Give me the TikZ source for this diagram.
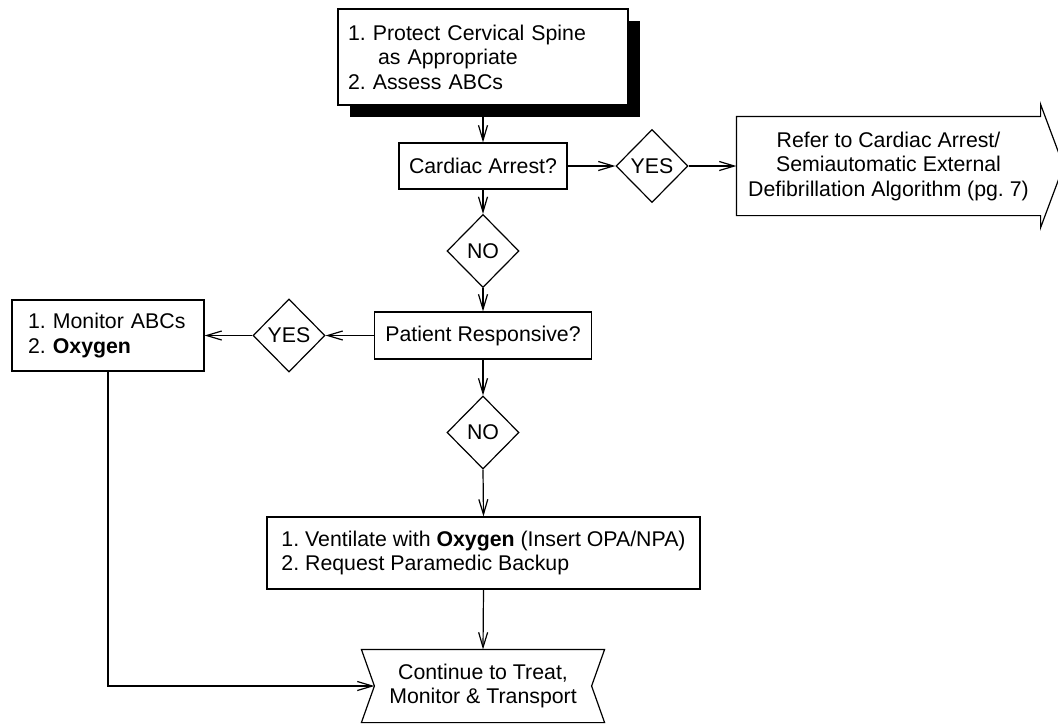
\documentclass[tikz,border=0pt]{standalone}
\usepackage{fontspec}
\setmainfont{Liberation Sans}
\usetikzlibrary{arrows.meta,shapes.geometric,shadows,calc}
\frenchspacing
\newcommand{\notchw}{13}
\tikzset{
    boxsty/.style={draw,fill=white,rectangle,inner sep=0pt,align=center},
    lboxsty/.style={boxsty,align=left},
    decsty/.style={draw,fill=white,diamond,minimum width=72pt,minimum height=73pt,inner sep=0pt},
    flowsty/.style={-{Straight Barb[length=15pt,width=9pt]}},
    shdsty/.style={drop shadow={shadow xshift=12pt,shadow yshift=-12pt,fill=black,opacity=1}},
}

\begin{document}
\begin{tikzpicture}[x=1pt,y=-1pt,line width=1.2pt,font=\fontsize{21.3}{24.5}\selectfont]
  \useasboundingbox (0,0) rectangle (1058,724);

  % boxes and decisions
  \node[lboxsty,shdsty,text width=270pt,inner xsep=10pt,minimum height=96pt] (protect) at (483,57)
    {1. Protect Cervical Spine\\\hspace*{30pt}as Appropriate\\2. Assess ABCs};
  \node[boxsty,minimum width=168pt,minimum height=46pt] (cardiac) at (483,166) {Cardiac Arrest?};
  \node[decsty] (yesa) at (652,166) {YES};
  \node[boxsty,draw=none,minimum width=303pt,minimum height=98pt] (refer) at (888.5,166)
    {Refer to Cardiac Arrest/\\Semiautomatic External\\Defibrillation Algorithm (pg. 7)};
  \node[decsty] (noa) at (483,251) {NO};
  \node[boxsty,minimum width=217pt,minimum height=47pt] (patient) at (483,335.5) {Patient Responsive?};
  \node[decsty] (yesb) at (289,335.5) {YES};
  \node[lboxsty,text width=160pt,inner xsep=16pt,minimum height=71pt] (monitor) at (108,335.5)
    {1. Monitor ABCs\\2. \textbf{Oxygen}};
  \node[decsty] (nob) at (483,432.5) {NO};
  \node[lboxsty,minimum width=433pt,minimum height=72pt] (ventilate) at (483.5,553)
    {1. Ventilate with \textbf{Oxygen} (Insert OPA/NPA)\\2. Request Paramedic Backup};
  \node[boxsty,draw=none,minimum width=242pt,minimum height=72pt] (cont) at (483,686)
    {Continue to Treat,\\Monitor \& Transport};

  % outlines of the arrow box and the notched box
  \draw (refer.north west) -- (refer.north east) -- ++(0,-12) -- ($(refer.east)+(23,0)$)
    -- ($(refer.south east)+(0,12)$) -- (refer.south east) -- (refer.south west) -- cycle;
  \draw (cont.north west) -- (cont.north east) -- ($(cont.east)+(-\notchw,0)$)
    -- (cont.south east) -- (cont.south west) -- ($(cont.west)+(\notchw,0)$) -- cycle;
  \coordinate (contin) at ($(cont.west)+(\notchw,0)$);

  % connectors
  \draw[flowsty] (protect.south) -- (cardiac.north);
  \draw[flowsty] (cardiac.east) -- (yesa.west);
  \draw[flowsty] (yesa.east) -- (refer.west);
  \draw[flowsty] (cardiac.south) -- (noa.north);
  \draw[flowsty] (noa.south) -- (patient.north);
  \draw[flowsty] (patient.west) -- (yesb.east);
  \draw[flowsty] (yesb.west) -- (monitor.east);
  \draw[flowsty] (patient.south) -- (nob.north);
  \draw[flowsty] (nob.south) -- (ventilate.north);
  \draw[flowsty] (ventilate.south) -- (cont.north);
  \draw[flowsty] (monitor.south) |- (contin);
\end{tikzpicture}
\end{document}
